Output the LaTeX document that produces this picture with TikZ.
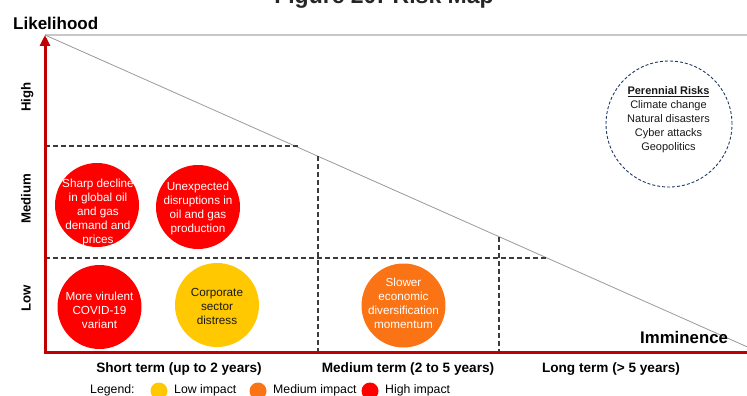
\documentclass[tikz,border=0pt]{standalone}
\usepackage{fontspec}
\setmainfont{Liberation Sans}
\usetikzlibrary{arrows.meta}
\definecolor{axisred}{HTML}{C00000}
\definecolor{highred}{HTML}{FF0000}
\definecolor{midorange}{HTML}{FA7314}
\definecolor{lowyellow}{HTML}{FFC800}
\definecolor{gridgrey}{HTML}{3C3C3C}
\definecolor{navy}{HTML}{1F3864}
\def\fs#1#2{\fontsize{#1}{#2}\selectfont}
\tikzset{
  risk/.style={circle, draw=none, minimum size=84pt, inner sep=0pt},
  risktext/.style={align=center, font=\fs{11.7}{14}, inner sep=0pt},
  grid/.style={gridgrey, line width=1.3pt, dash pattern=on 5pt off 3pt},
  axislabel/.style={font=\bfseries\fs{13.6}{16}, anchor=base},
  levellabel/.style={font=\bfseries\fs{13.2}{16}, rotate=90, anchor=base},
  keydot/.style={circle, minimum size=17pt, inner sep=0pt},
  keytext/.style={font=\fs{12.3}{14}, anchor=base west, inner sep=0pt}
}
\begin{document}
\begin{tikzpicture}[x=1pt, y=-1pt]
			%%%%% FRAME %%%%%
			\useasboundingbox (0,0) rectangle (747,396);
			
			\node[font=\bfseries\fs{23}{23}, text=black!85, anchor=base] (title) at (384,3.5) {Figure 20: Risk Map};
			
			\coordinate (origin) at (45,352);
			\coordinate (ytop) at (45,35);
			\coordinate (xend) at (752,352);
			
			\draw[black!22, line width=1.5pt] (ytop) -- (747,35);
			\draw[black!40, line width=0.8pt] (ytop) -- (752,349);
			
			%%%%% GRID %%%%%
			\draw[grid] (origin |- 0,146) -- (298,146);
			\draw[grid] (origin |- 0,258) -- (547,258);
			\draw[grid] (318,156) -- (318,352);
			\draw[grid] (499,237) -- (499,352);
			
			\draw[axisred, line width=3pt, line join=miter, -{Triangle[length=11pt, width=10pt]}] (xend) -- (origin) -- (ytop);
			
			\node[font=\bfseries\fs{17}{20}, anchor=base west, inner sep=0pt] (likelihood) at (13,30) {Likelihood};
			\node[font=\bfseries\fs{16.8}{20}, anchor=base west, inner sep=0pt] (imminence) at (640,343) {Imminence};
			
			\node[levellabel] (high) at (30.7,97) {High};
			\node[levellabel] (medium) at (30.7,199) {Medium};
			\node[levellabel] (low) at (30.7,298) {Low};
			
			\node[axislabel] (short) at (179,372) {Short term (up to 2 years)};
			\node[axislabel] (mediumterm) at (408,372) {Medium term (2 to 5 years)};
			\node[axislabel] (long) at (611,372) {Long term (> 5 years)};
			
			%%%%% RISKS %%%%%
			\node[risk, fill=highred] (sharp) at (97,205) {};
			\node[risktext, text=white] (sharptext) at (98,212) {Sharp decline\\in global oil\\and gas\\demand and\\prices};
			
			\node[risk, fill=highred] (unexpected) at (198,207) {};
			\node[risktext, text=white] (unexpectedtext) at (198,208) {Unexpected\\disruptions in\\oil and gas\\production};
			
			\node[risk, fill=highred] (virulent) at (99.5,307) {};
			\node[risktext, text=white] (virulenttext) at (99.5,310) {More virulent\\COVID-19\\variant};
			
			\node[risk, fill=lowyellow] (corporate) at (217,305) {};
			\node[risktext, text=black!90] (corporatetext) at (217,306) {Corporate\\sector\\distress};
			
			\node[risk, fill=midorange] (slower) at (403.5,305.5) {};
			\node[risktext, text=white] (slowertext) at (403.5,303) {Slower\\economic\\diversification\\momentum};
			
			\node[circle, draw=navy, line width=0.9pt, dash pattern=on 3pt off 2pt, minimum size=126pt] (perennial) at (669,124) {};
			\node[align=center, font=\fs{11}{14}, text=black!90, inner sep=0pt] (perennialtext) at (668.5,119.5) {\textbf{\underline{Perennial Risks}}\\Climate change\\Natural disasters\\Cyber attacks\\Geopolitics};
			
			%%%%% LEGEND %%%%%
			\node[keytext] (legend) at (90,393) {Legend:};
			\node[keydot, fill=lowyellow] (lowdot) at (159,391) {};
			\node[keytext] (lowkey) at (174,393) {Low impact};
			\node[keydot, fill=midorange] (middot) at (258,391) {};
			\node[keytext] (midkey) at (273,393) {Medium impact};
			\node[keydot, fill=highred] (highdot) at (370,391) {};
			\node[keytext] (highkey) at (385,393) {High impact};
\end{tikzpicture}
\end{document}
